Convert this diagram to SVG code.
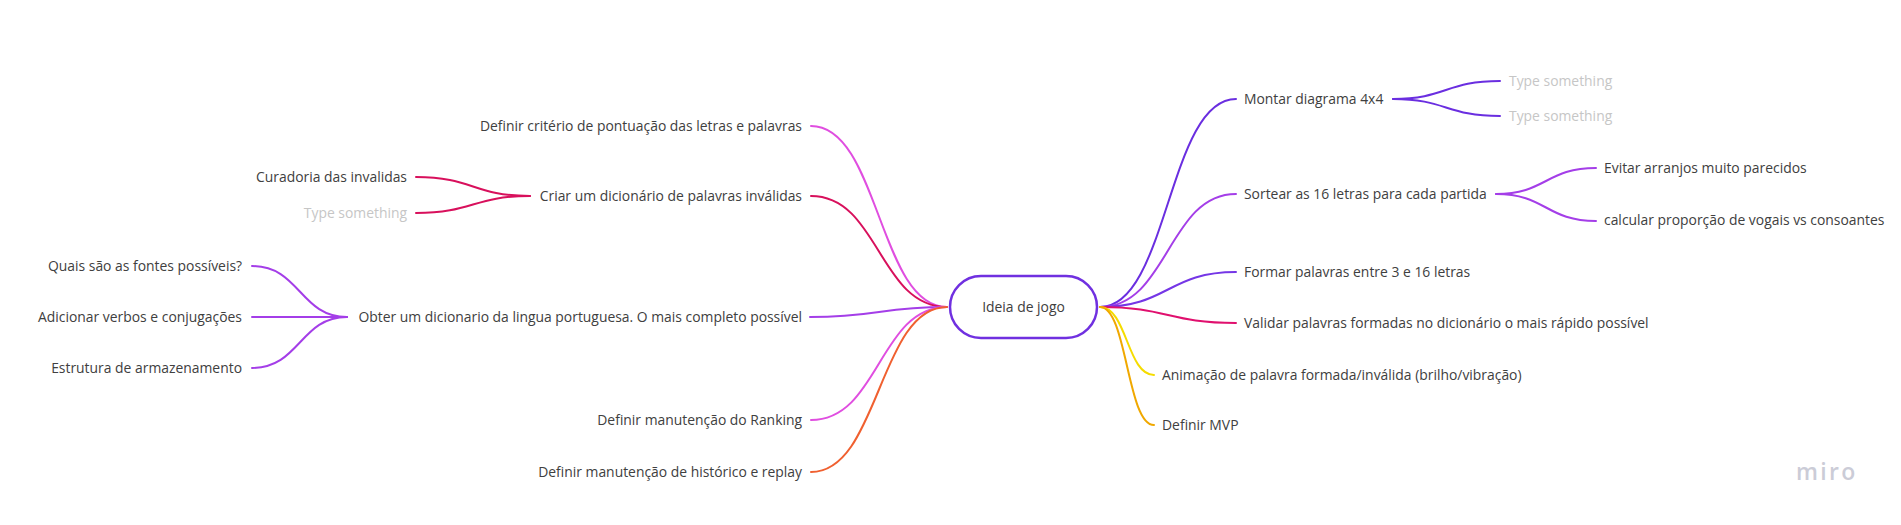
<svg xmlns="http://www.w3.org/2000/svg" width="1901" height="525" viewBox="0 0 1901 525">
<style>
.t{font-family:"Open Sans","Noto Sans",sans-serif;font-size:13.9px;fill:#404040}
.g{fill:#c6c6c6}
.e{text-anchor:end}
.c path{fill:none;stroke-width:2;stroke-linecap:round}
</style>
<rect width="1901" height="525" fill="#ffffff"/>
<g id="connectors" class="c">
<path d="M1100 307 C1168 307 1168 99 1236 99" stroke="#6a2ee0"/>
<path d="M1100 307 C1168 307 1168 194 1236 194" stroke="#a43ee8"/>
<path d="M1100 307 C1168 307 1168 272 1236 272" stroke="#7536e6"/>
<path d="M1100 307 C1168 307 1168 323 1236 323" stroke="#e0106e"/>
<path d="M1100 307 C1127 307 1127 375 1154 375" stroke="#f5dc00"/>
<path d="M1100 307 C1127 307 1127 425 1154 425" stroke="#f0a800"/>
<path d="M1393 99 C1446 99 1446 81 1500 81" stroke="#6a2ee0"/>
<path d="M1393 99 C1446 99 1446 116 1500 116" stroke="#6a2ee0"/>
<path d="M1496 194 C1546 194 1546 168 1596 168" stroke="#a43ee8"/>
<path d="M1496 194 C1546 194 1546 221 1596 221" stroke="#a43ee8"/>
<path d="M811 126 C879 126 879 307 947 307" stroke="#e04ee0"/>
<path d="M811 196 C879 196 879 307 947 307" stroke="#d8105c"/>
<path d="M810 317 C879 317 879 307 947 307" stroke="#a43ee8"/>
<path d="M811 420 C879 420 879 307 947 307" stroke="#e04ee0"/>
<path d="M811 472 C879 472 879 307 947 307" stroke="#f06030"/>
<path d="M530 196 C473 196 473 177 416 177" stroke="#d8105c"/>
<path d="M530 196 C473 196 473 213 416 213" stroke="#d8105c"/>
<path d="M347 317 C300 317 300 266 252 266" stroke="#a43ee8"/>
<path d="M347 317 C300 317 300 317 252 317" stroke="#a43ee8"/>
<path d="M347 317 C300 317 300 368 252 368" stroke="#a43ee8"/>
</g>
<g id="root">
<rect x="950" y="276" width="147" height="62" rx="31" fill="#ffffff" stroke="#7030e0" stroke-width="2.5"/>
<text class="t" x="1023.5" y="312" text-anchor="middle">Ideia de jogo</text>
</g>
<g id="n-montar"><text class="t" x="1244" y="104">Montar diagrama 4x4</text></g>
<g id="n-type1"><text class="t g" x="1509" y="86">Type something</text></g>
<g id="n-type2"><text class="t g" x="1509" y="121">Type something</text></g>
<g id="n-sortear"><text class="t" x="1244" y="199">Sortear as 16 letras para cada partida</text></g>
<g id="n-evitar"><text class="t" x="1604" y="173">Evitar arranjos muito parecidos</text></g>
<g id="n-calcular"><text class="t" x="1604" y="225">calcular proporção de vogais vs consoantes</text></g>
<g id="n-formar"><text class="t" x="1244" y="277">Formar palavras entre 3 e 16 letras</text></g>
<g id="n-validar"><text class="t" x="1244" y="328">Validar palavras formadas no dicionário o mais rápido possível</text></g>
<g id="n-animacao"><text class="t" x="1162" y="380">Animação de palavra formada/inválida (brilho/vibração)</text></g>
<g id="n-mvp"><text class="t" x="1162" y="430">Definir MVP</text></g>
<g id="n-criterio"><text class="t e" x="802" y="131">Definir critério de pontuação das letras e palavras</text></g>
<g id="n-criar"><text class="t e" x="802" y="201">Criar um dicionário de palavras inválidas</text></g>
<g id="n-curadoria"><text class="t e" x="407" y="182">Curadoria das invalidas</text></g>
<g id="n-type3"><text class="t g e" x="407" y="218">Type something</text></g>
<g id="n-obter"><text class="t e" x="802" y="322">Obter um dicionario da lingua portuguesa. O mais completo possível</text></g>
<g id="n-quais"><text class="t e" x="242" y="271">Quais são as fontes possíveis?</text></g>
<g id="n-adicionar"><text class="t e" x="242" y="322">Adicionar verbos e conjugações</text></g>
<g id="n-estrutura"><text class="t e" x="242" y="373">Estrutura de armazenamento</text></g>
<g id="n-ranking"><text class="t e" x="802" y="425">Definir manutenção do Ranking</text></g>
<g id="n-historico"><text class="t e" x="802" y="477">Definir manutenção de histórico e replay</text></g>
<text x="1796" y="480" font-family="'Open Sans','Noto Sans',sans-serif" font-size="23" font-weight="600" fill="#cbccd7" letter-spacing="2.3">miro</text>
</svg>
